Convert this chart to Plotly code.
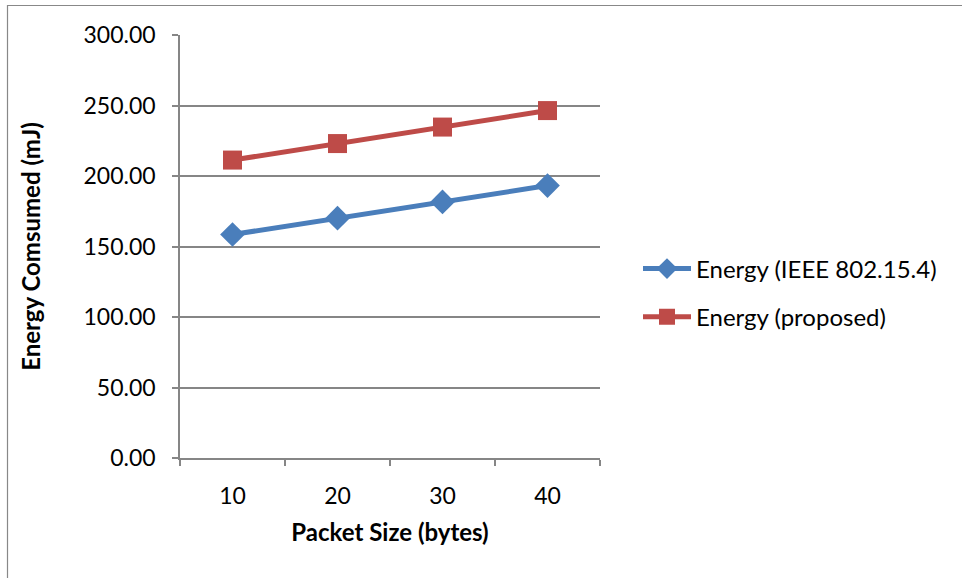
import plotly.graph_objects as go

packet_sizes = ["10", "20", "30", "40"]
energy_ieee = [158.5, 170.1, 181.6, 193.2]
energy_proposed = [211.3, 223.0, 234.7, 246.4]
y_ticks = [0, 50, 100, 150, 200, 250, 300]
y_tick_labels = ["0.00", "50.00", "100.00", "150.00", "200.00", "250.00", "300.00"]

W, H = 962, 578
FONT = "Lato, 'Open Sans', sans-serif"
GRID = "#868686"

fig = go.Figure()
fig.add_trace(go.Scatter(
    x=packet_sizes, y=energy_ieee, name="Energy (IEEE 802.15.4)",
    mode="lines+markers", legendgroup="a",
    line=dict(color="#4A7EBB", width=5),
    marker=dict(symbol="diamond", size=19, color="#4A7EBB"),
))
fig.add_trace(go.Scatter(
    x=packet_sizes, y=energy_proposed, name="Energy (proposed)",
    mode="lines+markers", legendgroup="b",
    line=dict(color="#BE4B48", width=5),
    marker=dict(symbol="square", size=19, color="#BE4B48"),
))

fig.update_layout(
    template="none",
    width=W, height=H,
    margin=dict(l=0, r=0, t=0, b=0, autoexpand=False),
    paper_bgcolor="white", plot_bgcolor="white",
    font=dict(family=FONT, color="#000000", size=23),
    xaxis=dict(
        domain=[180 / W, 600 / W],
        type="category", tickson="boundaries", range=[-0.5, 3.5],
        automargin=False,
        ticks="outside", ticklen=6, tickcolor=GRID, tickwidth=1.5,
        showline=True, linecolor=GRID, linewidth=1.5,
        showgrid=False, zeroline=False,
        tickfont=dict(size=23),
        ticklabelstandoff=17,
        title=dict(text="<b>Packet Size (bytes)</b>", font=dict(size=24), standoff=16),
    ),
    yaxis=dict(
        domain=[1 - 458 / H, 1 - 35 / H],
        range=[0, 300],
        automargin=False,
        tickvals=y_ticks, ticktext=y_tick_labels,
        ticks="outside", ticklen=6, tickcolor=GRID, tickwidth=1.5,
        showline=True, linecolor=GRID, linewidth=1.5,
        showgrid=True, gridcolor=GRID, gridwidth=1.5,
        zeroline=False,
        tickfont=dict(size=23),
        ticklabelstandoff=12,
        title=dict(text="<b>Energy Comsumed (mJ)</b>", font=dict(size=24), standoff=36),
    ),
    legend=dict(
        x=638 / W, y=1 - 293 / H, xanchor="left", yanchor="middle",
        font=dict(size=24), traceorder="grouped", tracegroupgap=14,
        itemwidth=48,
        bgcolor="rgba(0,0,0,0)",
    ),
    showlegend=True,
    shapes=[dict(
        type="rect", xref="paper", yref="paper",
        x0=7.5 / W, x1=1.02, y0=-0.02, y1=1 - 5.5 / H,
        line=dict(color="#888888", width=1.2), fillcolor="rgba(0,0,0,0)",
        layer="below",
    )],
)

fig.write_html("out.html")
